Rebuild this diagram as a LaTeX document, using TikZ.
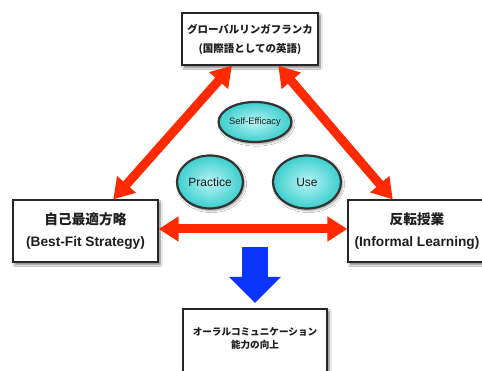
\documentclass[tikz,border=0pt]{standalone}
\usepackage{fontspec}
\setmainfont{Liberation Sans}
\newfontfamily\jp{Noto Sans CJK JP}
\usetikzlibrary{arrows.meta,shadows,shadows.blur,shapes.geometric,calc}
\definecolor{redc}{RGB}{255,42,0}
\definecolor{bluec}{RGB}{12,52,255}
\definecolor{cyanin}{RGB}{185,244,244}
\definecolor{cyanout}{RGB}{60,206,206}
\definecolor{txt}{RGB}{30,30,30}
\begin{document}
\begin{tikzpicture}[x=1pt,y=-1pt,
  box/.style={draw=black!85, line width=1.3pt, fill=white, inner sep=0pt, align=center, text=txt,
    blur shadow={shadow xshift=2pt, shadow yshift=-2.5pt, shadow blur steps=6, shadow opacity=55}},
  bubble/.style={ellipse, draw=black!80, line width=2.2pt, inner color=cyanin, outer color=cyanout,
    inner sep=0pt, text=txt, font=\fontsize{12}{14}\selectfont,
    blur shadow={shadow xshift=1.5pt, shadow yshift=-2pt, shadow blur steps=5, shadow opacity=40}},
  redarrow/.style={draw=redc, line width=9pt, {Triangle[length=20pt,width=24pt]}-{Triangle[length=20pt,width=24pt]}},
  bluearrow/.style={draw=bluec, line width=26pt, -{Triangle[length=26pt,width=50pt]}}
]
\useasboundingbox (0,0) rectangle (482,371);
\fill[white] (0,0) rectangle (482,371);

% boxes
\node[box, minimum width=136pt, minimum height=52pt, font=\jp\bfseries\fontsize{10.5}{19}\selectfont] (gl) at (250,39)
  {グローバルリンガフランカ\\(国際語としての英語)};
\node[box, minimum width=145pt, minimum height=62pt, font=\bfseries\fontsize{13.7}{22}\selectfont] (bf) at (85.5,231)
  {{\jp 自己最適方略}\\(Best-Fit Strategy)};
\node[box, minimum width=138pt, minimum height=62pt, font=\bfseries\fontsize{13.7}{22}\selectfont] (il) at (417,231)
  {{\jp 反転授業}\\(Informal Learning)};
\node[box, minimum width=144pt, minimum height=71pt] (oc) at (255,344.5) {};
\node[align=center, text=txt, inner sep=0pt, font=\jp\bfseries\fontsize{9.6}{13}\selectfont] (octext) at (255,338.5)
  {オーラルコミュニケーション\\能力の向上};

% ellipses
\node[bubble, minimum width=68pt, minimum height=40pt, font=\fontsize{9.3}{11}\selectfont] (se) at (255,122) {Self-Efficacy};
\node[bubble, minimum width=66pt, minimum height=53pt] (pr) at (210,182) {Practice};
\node[bubble, minimum width=68pt, minimum height=53pt] (us) at (307,182) {Use};

% red arrows
\draw[redarrow] ($(gl.south west)!0.368!(gl.south east)$) -- ($(bf.north west)!0.69!(bf.north east)$);
\draw[redarrow] ($(gl.south west)!0.706!(gl.south east)$) -- ($(il.north west)!0.326!(il.north east)$);
\draw[redarrow] ($(bf.east)+(0,-2)$) -- ($(il.west)+(0,-2)$);

% blue arrow
\coordinate (b1) at (255,247);
\coordinate (b2) at (255,303);
\draw[bluearrow] (b1) -- (b2);
\end{tikzpicture}
\end{document}
